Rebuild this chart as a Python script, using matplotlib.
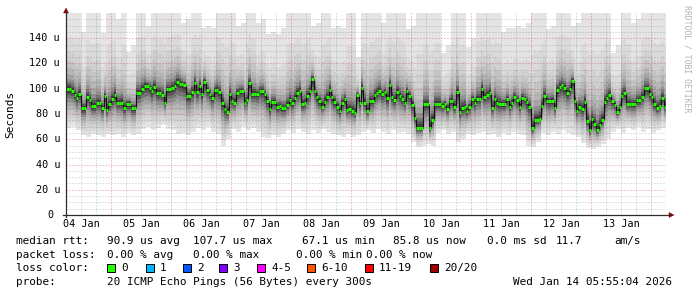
import numpy as np
import matplotlib
matplotlib.use('Agg')
import matplotlib.pyplot as plt
from matplotlib.patches import Rectangle, Polygon
from matplotlib.lines import Line2D

plt.rcParams['font.family'] = 'DejaVu Sans Mono'

# hourly median rtt (us), 04 Jan 05:55 -> 14 Jan 05:55
median_us = [
    99.8, 99.8, 98.5, 95.3, 92.4, 96.0, 84.5, 84.5, 93.7, 91.0, 86.3, 86.3, 88.5, 88.5, 84.5, 94.5, 83.0, 87.7, 92.0, 95.0, 89.0, 89.0, 89.0, 84.5,
    88.0, 88.0, 84.5, 84.5, 97.0, 97.0, 100.0, 102.0, 102.0, 100.5, 98.0, 101.6, 96.6, 96.6, 95.3, 89.0, 99.5, 99.5, 100.6, 102.2, 105.3, 103.8, 103.8, 102.7,
    94.3, 94.3, 97.4, 104.8, 97.4, 102.2, 95.6, 105.3, 99.0, 95.8, 92.7, 99.0, 99.0, 97.4, 89.0, 83.7, 81.6, 96.0, 90.5, 89.0, 96.9, 98.2, 98.2, 89.0,
    91.0, 104.3, 95.8, 95.8, 95.8, 98.5, 98.5, 95.6, 90.5, 83.7, 89.8, 89.8, 85.5, 86.3, 84.5, 84.5, 86.9, 91.0, 88.5, 92.9, 96.6, 98.5, 87.7, 88.5,
    94.3, 98.0, 107.7, 98.5, 93.2, 90.5, 85.8, 89.8, 93.7, 98.8, 93.2, 89.8, 85.8, 82.1, 89.0, 91.9, 83.2, 83.7, 82.6, 81.0, 94.8, 88.7, 100.6, 89.0,
    82.1, 90.0, 90.0, 94.8, 96.3, 98.5, 95.8, 97.4, 92.4, 103.2, 93.7, 91.0, 97.4, 94.3, 92.0, 89.0, 98.0, 94.3, 87.4, 76.8, 68.9, 68.9, 68.9, 87.9,
    87.9, 68.9, 75.2, 88.0, 88.0, 88.0, 86.3, 88.0, 84.2, 90.5, 90.5, 85.5, 97.4, 81.8, 84.7, 85.5, 82.1, 85.5, 92.1, 89.0, 92.0, 92.0, 99.8, 93.7,
    95.3, 96.9, 84.7, 92.0, 89.0, 88.0, 88.0, 88.0, 91.7, 85.8, 89.0, 93.7, 91.0, 85.8, 92.7, 91.7, 89.8, 85.8, 68.9, 75.2, 75.2, 76.3, 86.3, 94.3,
    90.5, 90.0, 90.5, 84.7, 99.0, 101.6, 102.7, 100.6, 96.9, 99.5, 106.4, 90.5, 82.6, 85.8, 84.2, 89.8, 74.7, 67.1, 75.7, 72.1, 67.1, 71.6, 75.2, 89.8,
    92.7, 94.8, 90.0, 87.4, 81.6, 85.8, 94.3, 96.3, 87.7, 87.7, 87.7, 87.7, 90.8, 90.8, 93.7, 100.3, 100.3, 95.8, 93.7, 88.0, 84.7, 86.3, 92.7, 85.8,
]

# 2-hourly extent of the smoke (slowest / fastest of the 20 pings, us)
smoke_top_us = [
    175, 175, 175, 145, 175, 175, 175, 144, 175, 175, 155, 175,
    129, 135, 175, 175, 150, 175, 175, 175, 175, 175, 175, 152,
    155, 175, 175, 148, 150, 148, 175, 175, 175, 175, 150, 152,
    175, 175, 152, 155, 143, 145, 143, 148, 175, 175, 175, 175,
    175, 150, 152, 175, 175, 148, 150, 148, 175, 175, 125, 175,
    175, 175, 175, 152, 175, 175, 175, 175, 147, 150, 175, 175,
    175, 175, 175, 128, 135, 175, 175, 175, 133, 140, 175, 175,
    175, 175, 175, 145, 148, 148, 150, 148, 152, 175, 175, 175,
    147, 150, 175, 175, 175, 150, 152, 175, 175, 175, 175, 175,
    175, 128, 135, 175, 175, 152, 155, 175, 175, 175, 175, 175,
]
smoke_bot_us = [
    69, 70, 67, 63, 62, 64, 63, 62, 64, 63, 64, 62,
    65, 63, 64, 68, 70, 67, 69, 71, 68, 67, 64, 65,
    63, 66, 69, 67, 70, 66, 64, 55, 60, 68, 66, 70,
    67, 69, 66, 62, 61, 63, 62, 64, 67, 65, 68, 66,
    64, 67, 65, 68, 66, 64, 63, 62, 64, 62, 63, 66,
    67, 65, 68, 66, 64, 67, 65, 66, 64, 58, 54, 55,
    56, 55, 65, 67, 64, 66, 58, 60, 64, 63, 65, 66,
    63, 64, 62, 65, 63, 66, 64, 63, 55, 54, 58, 65,
    63, 66, 64, 67, 65, 63, 62, 57, 53, 52, 54, 56,
    60, 66, 68, 65, 69, 67, 70, 66, 68, 65, 67, 69,
]

day_labels = ['04 Jan', '05 Jan', '06 Jan', '07 Jan', '08 Jan',
              '09 Jan', '10 Jan', '11 Jan', '12 Jan', '13 Jan']
y_ticks = [0, 20, 40, 60, 80, 100, 120, 140]
loss_names = ['0', '1', '2', '3', '4-5', '6-10', '11-19', '20/20']
loss_colors = ['#26ff00', '#00b8ff', '#0059ff', '#7e00ff', '#ff00ff', '#ff5500', '#ff0000', '#a10000']

W, H = 697, 297
fig = plt.figure(figsize=(W / 100, H / 100), dpi=100)
fig.patch.set_facecolor('white')
ax = fig.add_axes([66 / W, (H - 215) / H, 600 / W, 202 / H])

end = 14 + (5 + 55 / 60) / 24          # Jan 14 05:55 in "day of month" units
start = end - 10
edges = start + np.arange(len(median_us) + 1) / 24

med = np.array(median_us)
top = np.repeat(smoke_top_us, 2)
bot = np.repeat(smoke_bot_us, 2)

# smoke: nested bands, light outside, dark next to the median
w_up = [1.0, 0.55, 0.40, 0.30, 0.22, 0.16, 0.11, 0.075, 0.05, 0.03]
w_lo = [1.0, 0.88, 0.76, 0.64, 0.53, 0.43, 0.33, 0.24, 0.16, 0.09]
shades = ['#e4e4e4', '#dadada', '#d0d0d0', '#c4c4c4', '#b6b6b6',
          '#a6a6a6', '#909090', '#767676', '#5a5a5a', '#3c3c3c']
for wu, wl, c in zip(w_up, w_lo, shades):
    ax.stairs(med + (top - med) * wu, edges, baseline=med - (med - bot) * wl,
              fill=True, color=c, lw=0, zorder=1)

# dotted grid on top of the smoke
minor_c = (0.35, 0.35, 0.35, 0.36)
major_c = (0.8, 0.05, 0.05, 0.45)
dots = (0, (1, 2))
for v in range(5, 160, 5):
    ax.axhline(v, color=major_c if v % 20 == 0 else minor_c, lw=0.72, ls=dots, zorder=2)
for h in range(int(np.ceil(start * 4)), int(end * 4) + 1):
    ax.axvline(h / 4, color=major_c if h % 4 == 0 else minor_c, lw=0.72, ls=dots, zorder=2)

# median: dark step line with green (0 % loss) segments
ax.stairs(med, edges, baseline=None, color='#101010', lw=0.8, zorder=4)
ax.hlines(med, edges[:-1], edges[1:], color=loss_colors[0], lw=2.2, zorder=5,
          capstyle='butt')

ax.set_xlim(start, end)
ax.set_ylim(0, 160)
for s in ax.spines.values():
    s.set_visible(False)
ax.set_xticks([])
ax.set_yticks([])

tfs = 7.3
ytr = ax.get_yaxis_transform()
for v in y_ticks:
    lab = '0' if v == 0 else f'{v} u'
    xo = -13 / 600 if v == 0 else -6 / 600
    ax.text(xo, v, lab, transform=ytr, ha='right', va='center', fontsize=tfs, clip_on=False)
xtr = ax.get_xaxis_transform()
for d, lab in zip(range(4, 14), day_labels):
    ax.text(d + 0.5, -9 / 202, lab, transform=xtr, ha='center', va='center', fontsize=tfs, clip_on=False)

# axes with arrows
def P(x, y):
    return (x / W, 1 - y / H)

axis_c = '#2c2c2c'
arrow_c = '#8b0000'
fig.add_artist(Line2D(*zip(P(66, 217), P(66, 11)), color=axis_c, lw=0.9))
fig.add_artist(Line2D(*zip(P(63, 215), P(670, 215)), color=axis_c, lw=0.9))
fig.add_artist(Polygon([P(63.5, 13), P(68.5, 13), P(66, 8)], closed=True, fc=arrow_c, ec=arrow_c, lw=0.3))
fig.add_artist(Polygon([P(669, 212.5), P(669, 217.5), P(674, 215)], closed=True, fc=arrow_c, ec=arrow_c, lw=0.3))

fig.text(*P(10, 114), 'Seconds', rotation=90, ha='center', va='center', fontsize=8)
fig.text(*P(687, 59), 'RRDTOOL / TOBI OETIKER', rotation=270, ha='center', va='center',
         fontsize=5.9, color='#b4b4b4')

lfs = 7.9
def ftext(x, y, s):
    fig.text(*P(x, y), s, ha='left', va='center', fontsize=lfs)

y1, y2, y3, y4 = 241, 255, 268, 282
ftext(16, y1, 'median rtt:')
ftext(107, y1, '90.9 us avg')
ftext(193, y1, '107.7 us max')
ftext(302, y1, '67.1 us min')
ftext(393, y1, '85.8 us now')
ftext(487, y1, '0.0 ms sd')
ftext(556, y1, '11.7')
ftext(614, y1, 'am/s')

ftext(16, y2, 'packet loss:')
ftext(107, y2, '0.00 % avg')
ftext(193, y2, '0.00 % max')
ftext(296, y2, '0.00 % min')
ftext(366, y2, '0.00 % now')

ftext(16, y3, 'loss color:')
box_x = [107, 146, 183, 219, 257, 307, 365, 430]
for bx, name, c in zip(box_x, loss_names, loss_colors):
    fig.add_artist(Rectangle(P(bx, y3 + 4), 8 / W, 8 / H, transform=fig.transFigure,
                             fc=c, ec='black', lw=0.7))
    ftext(bx + 14, y3, name)

ftext(16, y4, 'probe:')
ftext(107, y4, '20 ICMP Echo Pings (56 Bytes) every 300s')
ftext(513, y4, 'Wed Jan 14 05:55:04 2026')

fig.savefig('out.png', dpi=100, facecolor='white')
